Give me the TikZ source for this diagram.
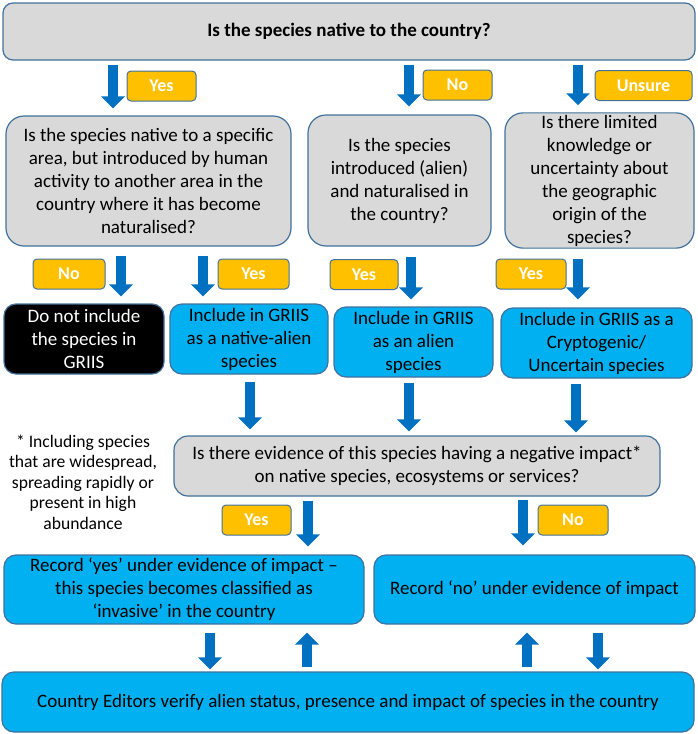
\documentclass[tikz,border=0pt]{standalone}
\usepackage{fontspec}
\setmainfont{Carlito}
\usetikzlibrary{arrows.meta}
\definecolor{boxgray}{HTML}{D9D9D9}
\definecolor{edgeblue}{HTML}{41719C}
\definecolor{fillblue}{HTML}{00B0F0}
\definecolor{arrowblue}{HTML}{0070C0}
\definecolor{tagorange}{HTML}{FFC000}
\tikzset{
  basebox/.style={draw=edgeblue, line width=1.2pt, align=center, inner sep=2pt,
    font=\fontsize{19}{23}\selectfont},
  graybox/.style={basebox, fill=boxgray, rounded corners=18pt},
  bluebox/.style={basebox, fill=fillblue, rounded corners=12pt},
  blackbox/.style={basebox, fill=black, text=white, rounded corners=12pt},
  tag/.style={draw=edgeblue, line width=1pt, fill=tagorange, text=white, rounded corners=4pt,
    font=\fontsize{18}{21}\bfseries\selectfont, minimum height=30pt, inner sep=0pt},
  bigarrow/.style={draw=arrowblue, fill=arrowblue, line width=9.5pt,
    -{Triangle[width=23pt,length=12pt]}},
  note/.style={align=center, font=\fontsize{17.6}{20.5}\selectfont, inner sep=0pt}
}
\begin{document}
\begin{tikzpicture}[x=1pt,y=-1pt]
\useasboundingbox (0,0) rectangle (697,734);

% top question
\node[graybox, rounded corners=10pt, minimum width=692pt, minimum height=57pt,
      font=\fontsize{19}{23}\bfseries\selectfont] (top) at (349,31.5)
  {Is the species native to the country?};

% tags row 1
\node[tag, minimum width=69pt] (tyes1) at (161.5,86) {Yes};
\node[tag, minimum width=69pt] (tno1) at (457.5,85) {No};
\node[tag, minimum width=97pt] (tuns) at (643.5,85.5) {Unsure};

% question boxes
\node[graybox, minimum width=285pt, minimum height=130pt] (q1) at (148.5,181)
  {Is the species native to a specific\\area, but introduced by human\\activity to another area in the\\country where it has become\\naturalised?};
\node[graybox, minimum width=183pt, minimum height=131pt] (q2) at (399.5,180.5)
  {Is the species\\introduced (alien)\\and naturalised in\\the country?};
\node[graybox, minimum width=189pt, minimum height=131pt] (q3) at (599.5,180.5)
  {Is there limited\\knowledge or\\uncertainty about\\the geographic\\origin of the\\species?};

% arrow x positions
\coordinate (xa) at (113,0);
\coordinate (xb) at (409,0);
\coordinate (xc) at (578,0);
\draw[bigarrow, shorten <=4pt, shorten >=7pt] (top.south -| xa) -- (q1.north -| xa);
\draw[bigarrow, shorten <=4pt, shorten >=8pt] (top.south -| xb) -- (q2.north -| xb);
\draw[bigarrow, shorten <=4pt, shorten >=7pt] (top.south -| xc) -- (q3.north -| xc);

% row 2 tags
\node[tag, minimum width=72pt] (tno2) at (69,274) {No};
\node[tag, minimum width=71pt] (tyes2) at (253.5,274) {Yes};
\node[tag, minimum width=68pt] (tyes3) at (364,274.5) {Yes};
\node[tag, minimum width=70pt] (tyes4) at (531,274) {Yes};

% outcome boxes
\node[blackbox, minimum width=160pt, minimum height=70pt] (excl) at (84,339)
  {Do not include\\the species in\\GRIIS};
\node[bluebox, minimum width=158pt, minimum height=70pt] (inc1) at (249,339)
  {Include in GRIIS\\as a native-alien\\species};
\node[bluebox, minimum width=159pt, minimum height=70pt] (inc2) at (413.5,342)
  {Include in GRIIS\\as an alien\\species};
\node[bluebox, minimum width=191pt, minimum height=70pt] (inc3) at (596.5,343)
  {Include in GRIIS as a\\Cryptogenic/\\Uncertain species};

\coordinate (xd) at (121,0);
\coordinate (xe) at (203,0);
\coordinate (xf) at (411,0);
\coordinate (xg) at (578,0);
\draw[bigarrow, shorten <=9pt, shorten >=7pt] (q1.south -| xd) -- (excl.north -| xd);
\draw[bigarrow, shorten <=9pt, shorten >=7pt] (q1.south -| xe) -- (inc1.north -| xe);
\draw[bigarrow, shorten <=10pt, shorten >=7pt] (q2.south -| xf) -- (inc2.north -| xf);
\draw[bigarrow, shorten <=10pt, shorten >=8pt] (q3.south -| xg) -- (inc3.north -| xg);

% impact question
\node[graybox, rounded corners=14pt, minimum width=486pt, minimum height=60pt] (q4) at (417,466)
  {Is there evidence of this species having a negative impact*\\on native species, ecosystems or services?};

\coordinate (xh) at (250,0);
\coordinate (xi) at (409,0);
\coordinate (xj) at (576,0);
\draw[bigarrow, shorten <=7pt, shorten >=6pt] (inc1.south -| xh) -- (q4.north -| xh);
\draw[bigarrow, shorten <=5pt, shorten >=4pt] (inc2.south -| xi) -- (q4.north -| xi);
\draw[bigarrow, shorten <=5pt, shorten >=3pt] (inc3.south -| xj) -- (q4.north -| xj);

% footnote
\node[note] (foot) at (83,482)
  {* Including species\\that are widespread,\\spreading rapidly or\\present in high\\abundance};

% row 4 tags
\node[tag, minimum width=69pt] (tyes5) at (256.5,520) {Yes};
\node[tag, minimum width=70pt] (tno5) at (573,520) {No};

% record boxes
\node[bluebox, minimum width=360pt, minimum height=69pt] (recyes) at (184,589.5)
  {Record ‘yes’ under evidence of impact –\\this species becomes classified as\\‘invasive’ in the country};
\node[bluebox, minimum width=321pt, minimum height=69pt] (recno) at (534.5,589.5)
  {Record ‘no’ under evidence of impact};

\coordinate (xk) at (308,0);
\coordinate (xl) at (523,0);
\draw[bigarrow, shorten <=4pt, shorten >=8pt] (q4.south -| xk) -- (recyes.north -| xk);
\draw[bigarrow, shorten <=3pt, shorten >=9pt] (q4.south -| xl) -- (recno.north -| xl);

% bottom box
\node[bluebox, minimum width=692pt, minimum height=60pt] (bottom) at (348,702)
  {Country Editors verify alien status, presence and impact of species in the country};

\coordinate (xm) at (210,0);
\coordinate (xn) at (307,0);
\coordinate (xo) at (527,0);
\coordinate (xp) at (598,0);
\draw[bigarrow, shorten <=8pt, shorten >=2pt] (recyes.south -| xm) -- (bottom.north -| xm);
\draw[bigarrow, shorten <=4pt, shorten >=8pt] (bottom.north -| xn) -- (recyes.south -| xn);
\draw[bigarrow, shorten <=4pt, shorten >=8pt] (bottom.north -| xo) -- (recno.south -| xo);
\draw[bigarrow, shorten <=8pt, shorten >=2pt] (recno.south -| xp) -- (bottom.north -| xp);
\end{tikzpicture}
\end{document}
